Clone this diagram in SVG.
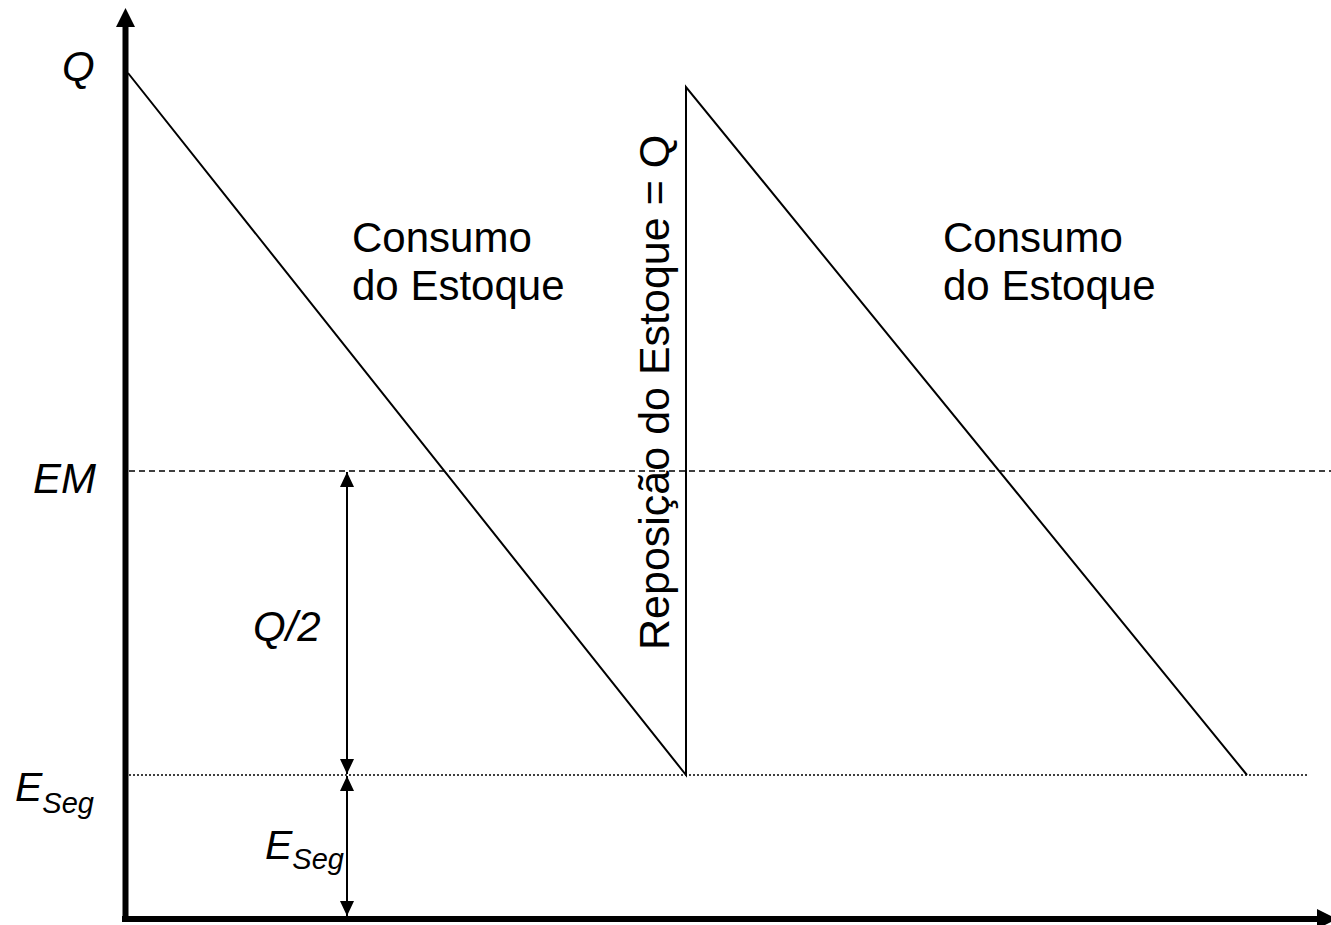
<svg xmlns="http://www.w3.org/2000/svg" width="1331" height="925" viewBox="0 0 1331 925">
<style>
text{font-family:"Liberation Sans",Arial,sans-serif;fill:#000}
.lbl{font-size:42px}
.it{font-style:italic}
.thin{stroke:#000;stroke-width:2;fill:none}
</style>
<defs>
<marker id="ah" viewBox="0 0 15 14" refX="15" refY="7" markerWidth="15" markerHeight="14" markerUnits="userSpaceOnUse" orient="auto-start-reverse">
<path d="M0,0 L15,7 L0,14 Z" fill="#000"/>
</marker>
</defs>
<rect width="1331" height="925" fill="#fff"/>
<g id="axes">
<line x1="125.5" y1="26" x2="125.5" y2="922" stroke="#000" stroke-width="6"/>
<polygon points="125.5,8 116,27 135,27" fill="#000"/>
<line x1="122" y1="919" x2="1318" y2="919" stroke="#000" stroke-width="6"/>
<polygon points="1317,909 1317,929 1337,919" fill="#000"/>
</g>
<g id="reference-lines">
<line x1="129" y1="471" x2="1331" y2="471" stroke="#000" stroke-width="1.5" stroke-dasharray="6,4"/>
<line x1="129" y1="775" x2="1308" y2="775" stroke="#000" stroke-width="1.5" stroke-dasharray="2,2"/>
</g>
<g id="sawtooth">
<polyline class="thin" points="128,73 686,775 686,87 1247,775"/>
</g>
<g id="connectors">
<line class="thin" x1="347" y1="472" x2="347" y2="774" marker-start="url(#ah)" marker-end="url(#ah)"/>
<line class="thin" x1="347" y1="776" x2="347" y2="916" marker-start="url(#ah)" marker-end="url(#ah)"/>
</g>
<g id="label-Q"><text class="lbl it" x="62" y="81">Q</text></g>
<g id="label-EM"><text class="lbl it" x="33" y="493">EM</text></g>
<g id="label-ESeg-axis"><text class="it" x="15" y="801" font-size="41">E<tspan font-size="29" dy="12">Seg</tspan></text></g>
<g id="label-Q2"><text class="lbl it" x="253" y="641">Q/2</text></g>
<g id="label-ESeg-arrow"><text class="it" x="265" y="859" font-size="41">E<tspan font-size="29" dy="10">Seg</tspan></text></g>
<g id="label-consumo-1"><text class="lbl" x="352" y="252">Consumo</text><text class="lbl" x="352" y="300">do Estoque</text></g>
<g id="label-consumo-2"><text class="lbl" x="943" y="252">Consumo</text><text class="lbl" x="943" y="300">do Estoque</text></g>
<g id="label-reposicao"><text font-size="43" transform="translate(669,650) rotate(-90)">Reposição do Estoque = Q</text></g>
</svg>
